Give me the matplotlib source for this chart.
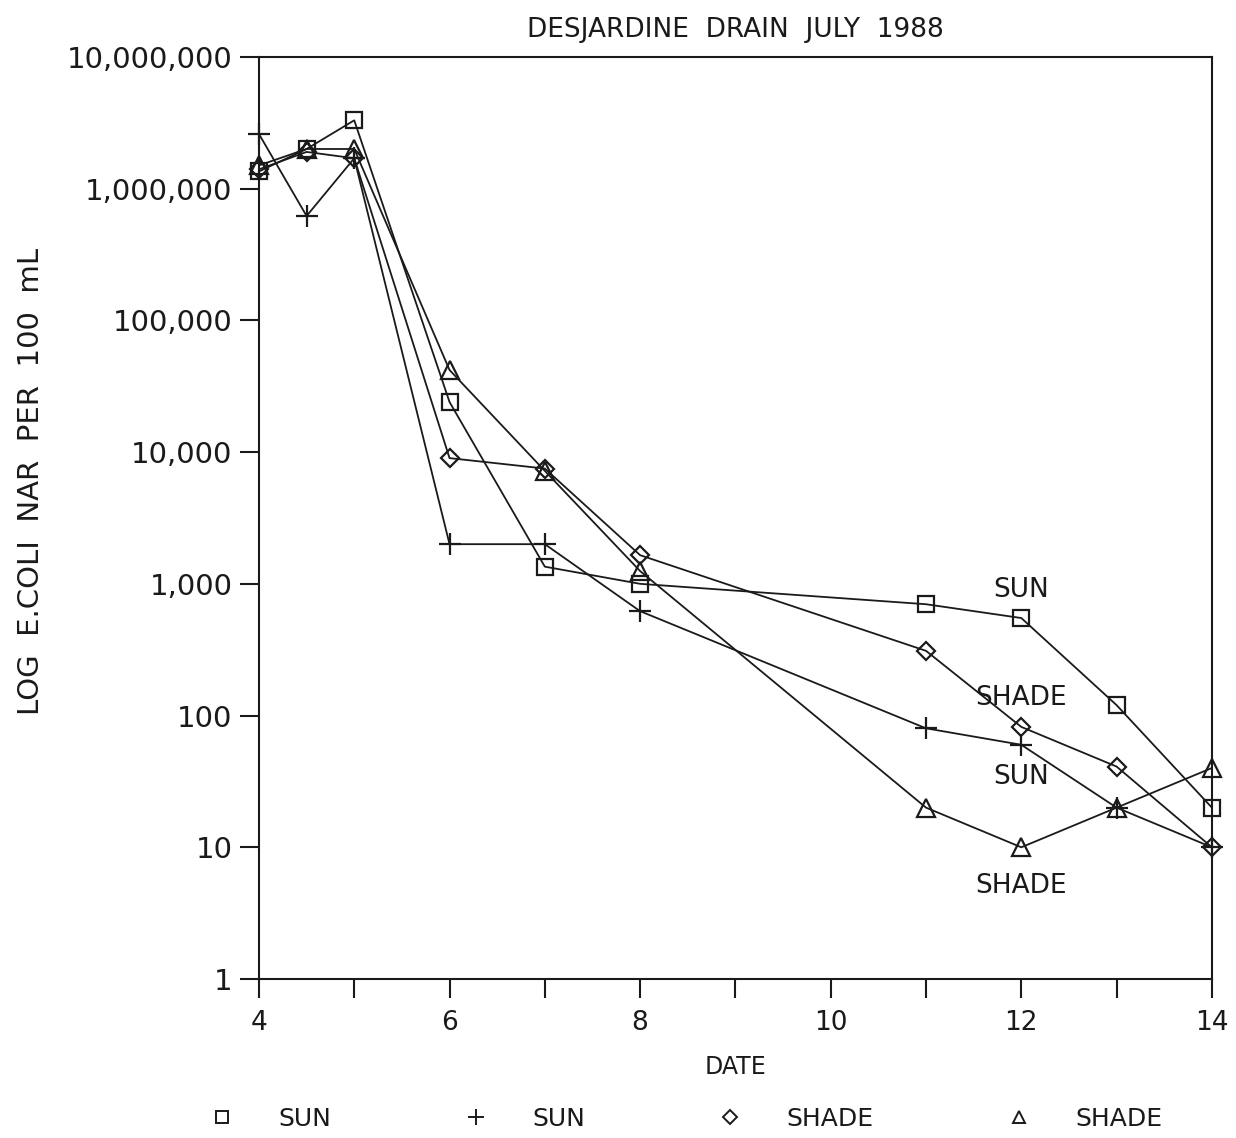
import matplotlib
matplotlib.use("Agg")
import matplotlib.pyplot as plt
from matplotlib.lines import Line2D
from matplotlib.ticker import FuncFormatter, FixedLocator

# dates sampled (day of July 1988)
dates = [4, 4.5, 5, 6, 7, 8, 11, 12, 13, 14]

sun_square = [1.35e6, 2.0e6, 3.3e6, 2.4e4, 1350, 1000, 700, 550, 120, 20]
sun_plus = [2.6e6, 6.2e5, 1.7e6, 2000, 2000, 620, 80, 60, 20, 10]
shade_diamond = [1.4e6, 1.9e6, 1.7e6, 9000, 7500, 1650, 310, 82, 41, 10]
shade_triangle = [1.5e6, 2.0e6, 2.0e6, 4.2e4, 7200, 1250, 20, 10, 20, 40]

series_labels = ["SUN", "SUN", "SHADE", "SHADE"]
y_ticks = [1, 10, 100, 1000, 10000, 100000, 1000000, 10000000]

ink = "#1a1a1a"
fnt = "DejaVu Sans"

fig = plt.figure(figsize=(12.36, 11.38), dpi=100)
ax = fig.add_axes([0.2095, 0.1397, 0.771, 0.8103])

ax.plot(dates, sun_square, color=ink, lw=1.3, marker="s", ms=12, mfc="none", mec=ink, mew=1.6, clip_on=False)
ax.plot(dates, sun_plus, color=ink, lw=1.3, marker="+", ms=16, mew=1.6, clip_on=False)
ax.plot(dates, shade_diamond, color=ink, lw=1.3, marker="D", ms=9, mfc="none", mec=ink, mew=1.6, clip_on=False)
ax.plot(dates, shade_triangle, color=ink, lw=1.3, marker="^", ms=13, mfc="none", mec=ink, mew=1.6, clip_on=False)

ax.set_yscale("log")
ax.set_ylim(1, 1e7)
ax.set_xlim(4, 14)
ax.yaxis.set_major_locator(FixedLocator(y_ticks))
ax.yaxis.set_minor_locator(FixedLocator([]))
ax.yaxis.set_major_formatter(FuncFormatter(lambda v, p: f"{int(round(v)):,}"))
ax.set_xticks(range(4, 15))
ax.set_xticklabels([str(d) if d % 2 == 0 else "" for d in range(4, 15)])

for s in ax.spines.values():
	s.set_color(ink)
	s.set_linewidth(1.5)
ax.tick_params(axis="both", direction="out", length=14, width=1.5, color=ink,
	labelcolor=ink, pad=8)
ax.tick_params(axis="y", labelsize=21, pad=5)
ax.tick_params(axis="x", labelsize=19)
for lab in ax.get_xticklabels() + ax.get_yticklabels():
	lab.set_family(fnt)

ax.set_title("DESJARDINE  DRAIN  JULY  1988", fontsize=19, color=ink, pad=14, family=fnt)
ax.set_xlabel("DATE", fontsize=17, color=ink, labelpad=14, family=fnt)
ax.set_ylabel("LOG  E.COLI  NAR  PER  100  mL", fontsize=21, color=ink, family=fnt)
ax.yaxis.set_label_coords(-0.225, 0.54)

# curve labels next to day 12
ax.text(12, 900, "SUN", ha="center", va="center", fontsize=19, color=ink, family=fnt)
ax.text(12, 135, "SHADE", ha="center", va="center", fontsize=19, color=ink, family=fnt)
ax.text(12, 34, "SUN", ha="center", va="center", fontsize=19, color=ink, family=fnt)
ax.text(12, 5.1, "SHADE", ha="center", va="center", fontsize=19, color=ink, family=fnt)

handles = [
	Line2D([], [], ls="none", marker="s", ms=9, mfc="none", mec=ink, mew=1.4),
	Line2D([], [], ls="none", marker="+", ms=12, mec=ink, mew=1.4),
	Line2D([], [], ls="none", marker="D", ms=7, mfc="none", mec=ink, mew=1.4),
	Line2D([], [], ls="none", marker="^", ms=9, mfc="none", mec=ink, mew=1.4),
]
fig.legend(handles, series_labels, loc="center", bbox_to_anchor=(0.555, 0.017),
	ncol=4, frameon=False, handlelength=1, handletextpad=1.75, columnspacing=5.3,
	borderpad=0, prop={"family": fnt, "size": 18}, labelcolor=ink)

fig.savefig("out.png", dpi=100)
